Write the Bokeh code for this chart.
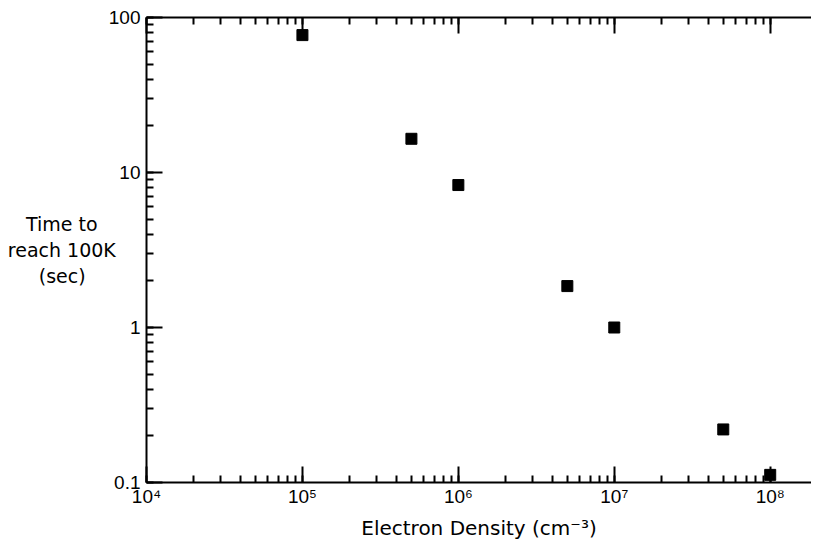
from bokeh.plotting import figure
from bokeh.models import LogAxis, Range1d, LogTicker
from bokeh.embed import file_html
from bokeh.resources import INLINE

density = [1e5, 5e5, 1e6, 5e6, 1e7, 5e7, 1e8]
time_s = [77, 16.5, 8.3, 1.85, 1.0, 0.22, 0.112]

x_ticks = [1e4, 1e5, 1e6, 1e7, 1e8]
x_tick_labels = ["10⁴", "10⁵", "10⁶", "10⁷", "10⁸"]
y_ticks = [0.1, 1, 10, 100]
y_tick_labels = ["0.1", "1", "10", "100"]

FONT = "DejaVu Sans"
TICK_FONT = "Liberation Sans"
NB = "\u00a0"

p = figure(width=811, height=544, x_axis_type="log", y_axis_type="log",
           x_range=Range1d(1e4, 1.84e8), y_range=Range1d(0.1, 100),
           output_backend="svg", toolbar_location=None,
           min_border_left=146, min_border_right=0, min_border_top=17,
           min_border_bottom=62, outline_line_color=None)
p.grid.visible = False
p.background_fill_color = "white"
p.border_fill_color = "white"

p.scatter(density, time_s, marker="square", size=11, color="black")

def style(ax, labels=True):
    ax.axis_line_width = 2
    ax.axis_line_color = "black"
    ax.major_tick_in = 16
    ax.major_tick_out = 0
    ax.minor_tick_in = 7
    ax.minor_tick_out = 0
    ax.major_tick_line_width = 2
    ax.minor_tick_line_width = 2
    ax.major_tick_line_color = "black"
    ax.minor_tick_line_color = "black"
    ax.major_label_text_font = TICK_FONT
    ax.major_label_text_font_size = "19px"
    ax.major_label_text_color = "black" if labels else None

xa = p.xaxis[0]
xa.ticker = LogTicker(desired_num_ticks=5, num_minor_ticks=10)
xa.major_label_overrides = {t: l for t, l in zip(x_ticks, x_tick_labels)}
style(xa)
xa.major_label_standoff = 3
xa.axis_label = "Electron Density (cm⁻³)"
xa.axis_label_text_font = FONT
xa.axis_label_text_font_size = "20px"
xa.axis_label_text_font_style = "normal"
xa.axis_label_text_color = "black"
xa.axis_label_standoff = 6

ya = p.yaxis[0]
ya.ticker = LogTicker(desired_num_ticks=4, num_minor_ticks=10)
ya.major_label_overrides = {t: l for t, l in zip(y_ticks, y_tick_labels)}
style(ya)
ya.major_label_standoff = 6
ya.axis_label = "Time to" + NB * 3 + "\nreach 100K\n(sec)" + NB * 5
ya.axis_label_orientation = "horizontal"
ya.axis_label_text_font = FONT
ya.axis_label_text_font_size = "19px"
ya.axis_label_text_font_style = "normal"
ya.axis_label_text_color = "black"
ya.axis_label_standoff = -10

top = LogAxis(ticker=LogTicker(desired_num_ticks=5, num_minor_ticks=10))
style(top, labels=False)
p.add_layout(top, "above")

open("out.html", "w").write(file_html(p, INLINE))
